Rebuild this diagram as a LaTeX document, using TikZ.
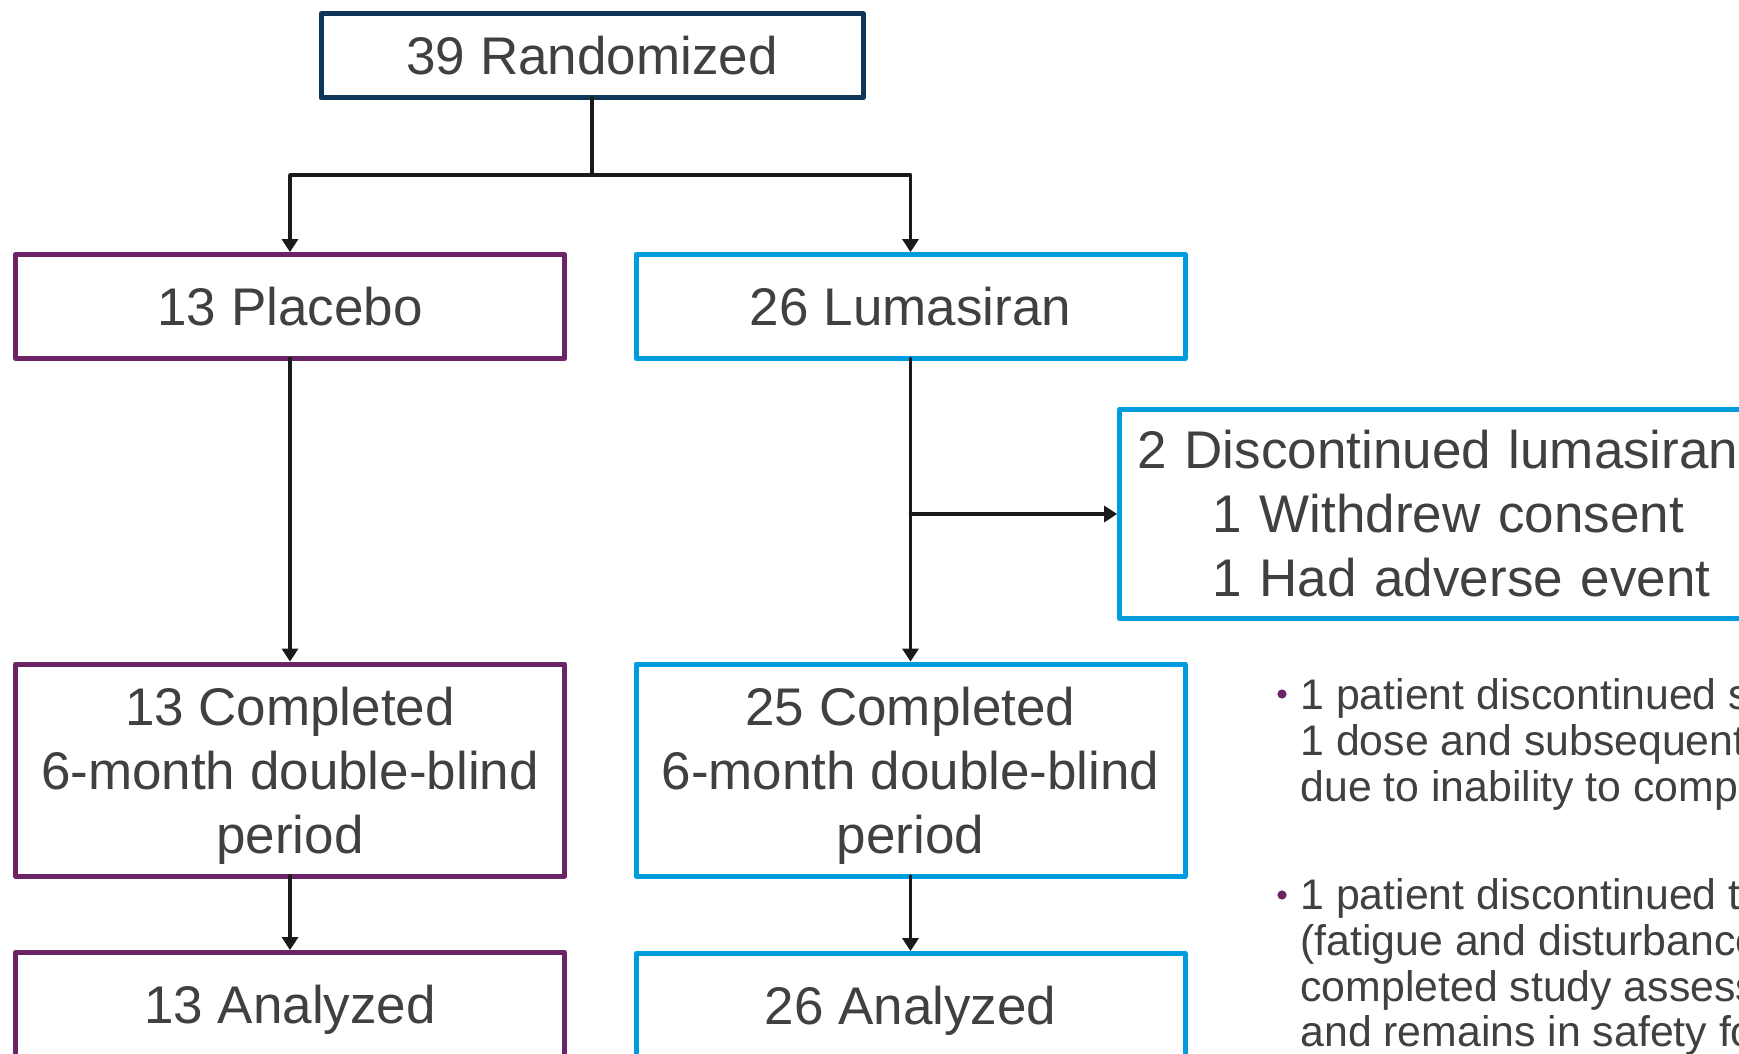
\documentclass[tikz,border=0pt]{standalone}
\usepackage{fontspec}
\setmainfont{Liberation Sans}
\usepackage{xcolor}
\usetikzlibrary{calc,positioning,arrows.meta}
\definecolor{ink}{HTML}{404040}
\definecolor{navy}{HTML}{0E3658}
\definecolor{plum}{HTML}{6B2567}
\definecolor{sky}{HTML}{009CDE}
\definecolor{wire}{HTML}{1A1A1A}
\tikzset{
  FlowBox/.style={
    draw, line width=2.5pt, fill=white,
    outer sep=0pt, inner sep=0pt,
    align=center, text=ink,
    font=\fontsize{26.5pt}{32pt}\selectfont
  },
  OneLine/.style={text height=22pt, text depth=3pt},
  RandBox/.style={FlowBox, OneLine, draw=navy, minimum width=271pt, minimum height=42pt},
  PlacBox/.style={FlowBox, draw=plum, minimum width=274.5pt, minimum height=#1},
  LumaBox/.style={FlowBox, draw=sky, minimum width=274.5pt, minimum height=#1},
  Flow/.style={draw=wire, line width=1.8pt, shorten >=1.2pt,
    -{Triangle[length=6.5pt,width=8pt]}},
  NoteText/.style={
    anchor=north west, inner sep=0pt, align=left, text=ink,
    font=\fontsize{21.4pt}{22.9pt}\selectfont
  },
  NoteDot/.style={circle, fill=plum, inner sep=0pt, minimum size=4.6pt}
}
% first line strut, puts the three lines a little lower in the box
\newcommand{\TopStrut}{\rule{0pt}{24.5pt}}

\begin{document}
\begin{tikzpicture}[x=0.5pt, y=-0.5pt, line cap=round, line join=round]
  % page frame, content is cut at the edges
  \useasboundingbox (0,0) rectangle (1739,1054);
  \clip (0,0) rectangle (1739,1054);

  % Boxes
  \node[RandBox] (rand) at (592,56) {39 Randomized};
  \node[PlacBox=52pt, OneLine] (plac) at (290,306.5) {13 Placebo};
  \node[LumaBox=52pt, OneLine] (luma) at (910.5,306.5) {26 Lumasiran};
  \node[PlacBox=106pt] (pcomp) at (290,770)
    {\TopStrut 13 Completed\\6-month double-blind\\period};
  \node[LumaBox=106pt] (lcomp) at (910.5,770)
    {\TopStrut 25 Completed\\6-month double-blind\\period};
  \node[PlacBox=52pt, OneLine] (panal) at (290,1004.5) {13 Analyzed};
  \node[LumaBox=52pt, OneLine] (lanal) at (910.5,1005.5) {26 Analyzed};
  \node[LumaBox=104.5pt, minimum width=0pt, anchor=west, align=left,
        text width=332pt, inner xsep=9pt] (disc) at (1119.5,514)
    {2 Discontinued lumasiran\\
     \hspace*{37.5pt}1 Withdrew consent\\
     \hspace*{37.5pt}1 Had adverse event};

  % Connectors
  \coordinate (split) at (592,175);
  \coordinate (drop) at (910.5,514);
  \draw[Flow, -, shorten >=0pt] (rand.south) -- (split);
  \draw[Flow] (split) -| (plac.north);
  \draw[Flow] (split) -| (luma.north);
  \draw[Flow] (plac.south) -- (pcomp.north);
  \draw[Flow] (luma.south) -- (lcomp.north);
  \draw[Flow] (drop) -- (disc.west);
  \draw[Flow] (pcomp.south) -- (panal.north);
  \draw[Flow] (lcomp.south) -- (lanal.north);

  % Footnotes
  \node[NoteDot] (dot1) at (1282,694) {};
  \node[NoteText] (note1) at (1300,678)
    {1 patient discontinued s\\1 dose and subsequent\\due to inability to compl};
  \node[NoteDot] (dot2) at (1282,895) {};
  \node[NoteText] (note2) at (1300,878)
    {1 patient discontinued tr\\(fatigue and disturbance\\completed study assess\\and remains in safety fo};
\end{tikzpicture}
\end{document}
